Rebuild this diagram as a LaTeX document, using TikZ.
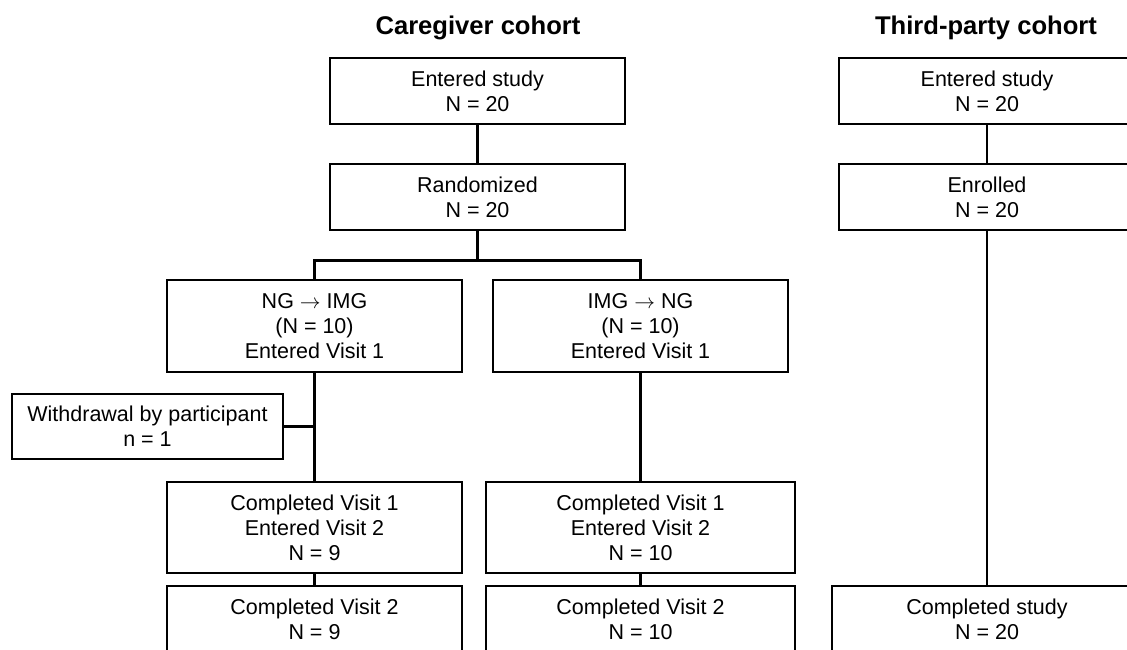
\documentclass[tikz,border=0pt]{standalone}
\usepackage{fontspec}
\setmainfont{Liberation Sans}
\begin{document}
\begin{tikzpicture}[x=1pt,y=-1pt,
  box/.style={draw=black,line width=2.5pt,rectangle,align=center,inner sep=0pt,
    font=\fontsize{21.5}{25}\selectfont},
  conn/.style={draw=black,line width=2.5pt},
  title/.style={anchor=base,font=\fontsize{25.6}{30}\selectfont\bfseries}]
\useasboundingbox (0,0) rectangle (1127,649);
\clip (0,0) rectangle (1127,649);
\fill[white] (0,0) rectangle (1127,649);
% titles
\node[title] (tcare) at (478,34) {Caregiver cohort};
\node[title] (tthird) at (986,34) {Third-party cohort};
% caregiver cohort
\node[box,minimum width=295pt,minimum height=66pt] (e1) at (477.5,91) {Entered study\\N = 20};
\node[box,minimum width=295pt,minimum height=66pt] (r1) at (477.5,197) {Randomized\\N = 20};
\node[box,minimum width=295pt,minimum height=92pt] (ng) at (314.5,326) {NG $\rightarrow$ IMG\\(N = 10)\\Entered Visit 1};
\node[box,minimum width=295pt,minimum height=92pt] (img) at (640.5,326) {IMG $\rightarrow$ NG\\(N = 10)\\Entered Visit 1};
\node[box,minimum width=271pt,minimum height=65pt] (wd) at (147.5,426.5) {Withdrawal by participant\\n = 1};
\node[box,minimum width=295pt,minimum height=91pt] (cv1a) at (314.5,527.5) {Completed Visit 1\\Entered Visit 2\\N = 9};
\node[box,minimum width=309pt,minimum height=91pt] (cv1b) at (640.5,527.5) {Completed Visit 1\\Entered Visit 2\\N = 10};
\node[box,minimum width=295pt,minimum height=66pt] (cv2a) at (314.5,619) {Completed Visit 2\\N = 9};
\node[box,minimum width=309pt,minimum height=66pt] (cv2b) at (640.5,619) {Completed Visit 2\\N = 10};
% third-party cohort
\node[box,minimum width=296pt,minimum height=66pt] (te) at (987,91) {Entered study\\N = 20};
\node[box,minimum width=296pt,minimum height=66pt] (ten) at (987,197) {Enrolled\\N = 20};
\node[box,minimum width=310pt,minimum height=66pt] (tc) at (987,619) {Completed study\\N = 20};
% connectors
\coordinate (split) at (477.5,260.5);
\draw[conn] (e1.south) -- (r1.north);
\draw[conn] (r1.south) -- (split);
\draw[conn] (ng.north) |- (split) -| (img.north);
\draw[conn] (ng.south) -- (cv1a.north);
\draw[conn] (wd.east) -- (wd.east -| ng.south);
\draw[conn] (img.south) -- (cv1b.north);
\draw[conn] (cv1a.south) -- (cv2a.north);
\draw[conn] (cv1b.south) -- (cv2b.north);
\draw[conn] (te.south) -- (ten.north);
\draw[conn] (ten.south) -- (tc.north);
\end{tikzpicture}
\end{document}
